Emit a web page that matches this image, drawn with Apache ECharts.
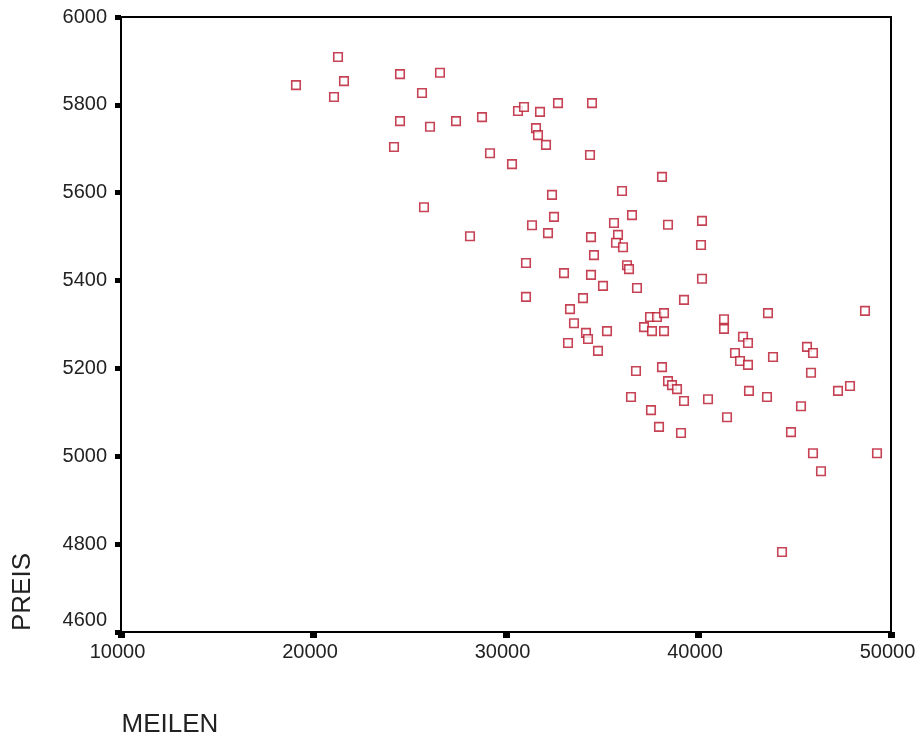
<!DOCTYPE html>
<html>
<head>
<meta charset="utf-8">
<title>PREIS / MEILEN</title>
<script src="https://cdn.jsdelivr.net/npm/echarts@6/dist/echarts.min.js"></script>
<style>
  html, body { margin: 0; padding: 0; background: #fff; }
  #chart { width: 921px; height: 738px; }
</style>
</head>
<body>
<div id="chart"></div>
<script>
// Mileage (MEILEN) and price (PREIS) per vehicle
const meilen = [
  19090, 21273, 21584, 21065, 24494, 26571, 25636, 24494, 26052, 27403,
  28753, 24182, 29169, 30312, 30623, 30935, 31766, 31558, 31662, 32078,
  32701, 34468, 34364, 25740, 28130, 32390, 32494, 31351, 32182, 31039,
  31039, 38104, 36026, 36545, 35610, 38416, 40182, 35818, 35714, 36078,
  34416, 34571, 40130, 36286, 36390, 34416, 35039, 36805, 40182, 33013,
  34000, 33325, 33532, 34156, 34260, 33221, 34779, 35247, 39247, 37481,
  37844, 38208, 37169, 37584, 38208, 41325, 41325, 43610, 48649, 42312,
  42571, 41896, 42156, 42571, 43870, 45636, 45948, 45844, 36753, 38104,
  38416, 38623, 38883, 39247, 40494, 36494, 37532, 41481, 37948, 39091,
  42623, 43558, 47247, 47870, 45325, 44805, 45948, 49273, 46364, 44338
];
const preis = [
  5845, 5909, 5854, 5818, 5870, 5873, 5827, 5763, 5750, 5763,
  5772, 5704, 5690, 5665, 5786, 5795, 5784, 5747, 5731, 5709,
  5804, 5804, 5686, 5567, 5501, 5595, 5545, 5526, 5508, 5440,
  5363, 5636, 5604, 5549, 5531, 5527, 5536, 5504, 5486, 5476,
  5499, 5458, 5481, 5435, 5426, 5413, 5388, 5383, 5404, 5417,
  5360, 5335, 5303, 5281, 5267, 5258, 5240, 5285, 5356, 5317,
  5317, 5326, 5294, 5285, 5285, 5312, 5290, 5326, 5331, 5272,
  5258, 5235, 5217, 5208, 5226, 5249, 5235, 5190, 5194, 5203,
  5171, 5162, 5153, 5126, 5130, 5135, 5105, 5089, 5067, 5053,
  5149, 5135, 5149, 5160, 5114, 5055, 5007, 5007, 4966, 4782
];
const xTicks = { min: 10000, max: 50000, step: 10000 };
const yTicks = { min: 4600, max: 6000, step: 200 };
const xTitle = 'MEILEN';
const yTitle = 'PREIS';

const points = meilen.map((m, i) => [m, preis[i]]);

const labelFont = 'Liberation Sans, Arial, sans-serif';
const chart = echarts.init(document.getElementById('chart'), null, { renderer: 'canvas' });

chart.setOption({
  animation: false,
  backgroundColor: '#ffffff',
  grid: {
    left: 121, top: 17, right: 30, bottom: 106,
    show: true, borderColor: '#000', borderWidth: 2, backgroundColor: 'transparent'
  },
  xAxis: {
    type: 'value',
    min: xTicks.min, max: xTicks.max, interval: xTicks.step,
    splitLine: { show: false },
    axisLine: { show: true, onZero: false, lineStyle: { color: '#000', width: 2 } },
    axisTick: { show: true, length: 6, lineStyle: { color: '#000', width: 7 } },
    axisLabel: {
      color: '#222', fontSize: 20, fontFamily: labelFont, margin: 10,
      padding: [0, 7, 0, 0],
      formatter: v => String(v)
    }
  },
  yAxis: {
    type: 'value',
    min: yTicks.min, max: yTicks.max, interval: yTicks.step,
    splitLine: { show: false },
    axisLine: { show: true, onZero: false, lineStyle: { color: '#000', width: 2 } },
    axisTick: { show: true, length: 6, lineStyle: { color: '#000', width: 5 } },
    axisLabel: {
      color: '#222', fontSize: 20, fontFamily: labelFont, margin: 14,
      formatter: v => v === yTicks.min ? '{low|' + v + '}' : String(v),
      rich: {
        low: { fontSize: 20, fontFamily: labelFont, color: '#222', padding: [0, 0, 24, 0] }
      }
    }
  },
  graphic: [
    {
      type: 'text', x: 23, y: 592, rotation: Math.PI / 2,
      style: {
        text: yTitle, fill: '#222', font: '26px ' + labelFont,
        align: 'center', verticalAlign: 'middle'
      }
    },
    {
      type: 'text', x: 170, y: 725,
      style: {
        text: xTitle, fill: '#222', font: '26px ' + labelFont,
        align: 'center', verticalAlign: 'middle'
      }
    }
  ],
  series: [{
    type: 'scatter',
    data: points,
    symbol: 'rect',
    symbolSize: 8.5,
    itemStyle: { color: '#ffffff', borderColor: '#b8142c', borderWidth: 1.6 },
    emphasis: { disabled: true }
  }]
});
</script>
</body>
</html>
